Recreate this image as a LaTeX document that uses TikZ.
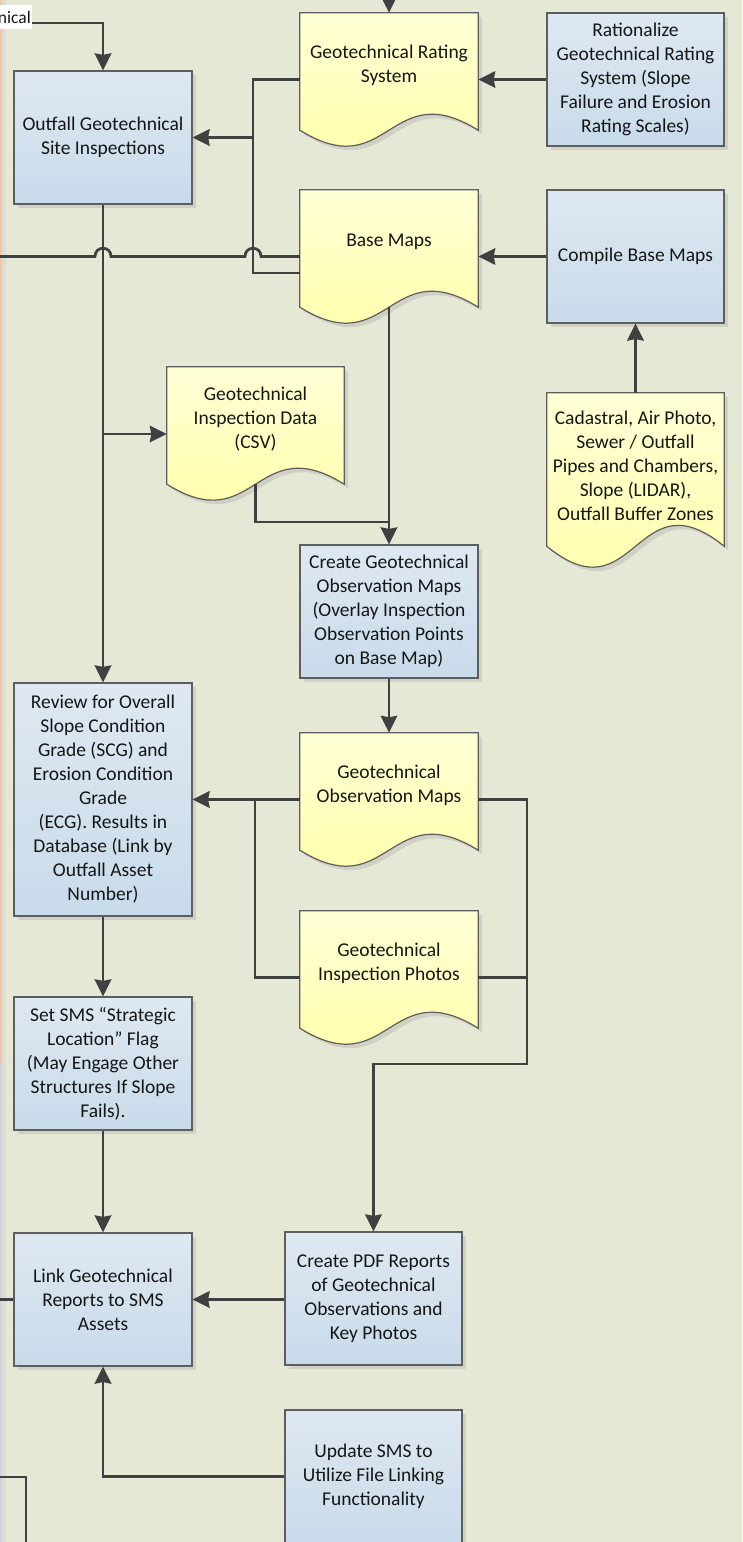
\documentclass[tikz,border=0pt]{standalone}
\usepackage{fontspec}
\setmainfont{Carlito}
\usetikzlibrary{arrows.meta,calc,shadows}

\definecolor{bgc}{HTML}{E5E8D4}
\definecolor{peach}{HTML}{F3C6A6}
\definecolor{lav}{HTML}{D6D0DF}
\definecolor{band}{HTML}{DCDDD3}
\definecolor{boxtop}{HTML}{DFE8F2}
\definecolor{boxbot}{HTML}{C8DBEA}
\definecolor{doctop}{HTML}{FFFFD6}
\definecolor{docbot}{HTML}{FFFFA4}
\definecolor{edgec}{HTML}{5E5E5E}
\definecolor{linec}{HTML}{404040}
\definecolor{shadowc}{HTML}{D0D1C5}
\definecolor{txtc}{HTML}{161616}

\newcommand\mainfs{\fontsize{19.5}{24}\selectfont}

% outline of a "document" symbol (wavy bottom) around the rectangle node #1, shifted by (#2,#3)
\newcommand\docoutline[3]{%
  let \p1=($(#1.north west)+(#2,#3)$), \p2=($(#1.south east)+(#2,#3)$),
      \n1={0.12*(\y1-\y2)}, \n2={0.415*(\y1-\y2)}, \n3={0.5*(\x1+\x2)} in
  (\x1,\y1) -- (\x2,\y1) -- (\x2,{\y2+\n1})
  .. controls ({\n3},{\y2+\n1+\n2}) and ({\n3},{\y2+\n1-\n2}) .. (\x1,{\y2+\n1}) -- cycle}

\tikzset{
  proc/.style={rectangle, draw=edgec, line width=1.2pt, top color=boxtop, bottom color=boxbot,
    minimum width=178pt, minimum height=133pt, inner sep=0pt, align=center, text=txtc, font=\mainfs,
    general shadow={fill=shadowc, shadow xshift=4pt, shadow yshift=-4pt}},
  docbox/.style={rectangle, draw=none, minimum width=178pt, minimum height=133pt, inner sep=0pt},
  doctext/.style={align=center, text=txtc, font=\mainfs, inner sep=0pt},
  conn/.style={draw=linec, line width=2.7pt},
  arrowc/.style={conn, -{Stealth[length=17pt, width=16.5pt, inset=1.5pt]}},
}

\begin{document}
\begin{tikzpicture}[x=1pt, y=1pt]
  % page background and left border strip
  \fill[bgc] (0,0) rectangle (742,-1542);
  \useasboundingbox (0,0) rectangle (742,-1542);
  \fill[peach] (0,0) rectangle (2.3,-1063);
  \fill[lav] (0,-1063) rectangle (2.3,-1542);
  \fill[band] (2.3,0) rectangle (6,-1542);

  % helper coordinates
  \coordinate (lft) at (0,0);
  \coordinate (rtop) at (389,0);
  \coordinate (v1) at (253,-79.5);
  \coordinate (v2) at (253,-273);
  \coordinate (j1) at (103,-434);
  \coordinate (j2) at (389,-522);
  \coordinate (j3) at (255,-799.5);
  \coordinate (j4) at (527,-1064);
  \coordinate (o1) at (0,-1477);
  \coordinate (o2) at (26,-1542);

  % incoming label from the previous sheet
  \node[fill=white, inner xsep=1pt, inner ysep=0pt, minimum height=24pt, anchor=east,
        font=\fontsize{17.5}{20}\selectfont, text=txtc] (prev) at (32,-17) {nical};

  % process boxes
  \node[proc] (outfall) at (103,-137.5) {Outfall Geotechnical\\Site Inspections};
  \node[proc, minimum width=177pt] (ratl) at (635.5,-79.5)
    {Rationalize\\Geotechnical Rating\\System (Slope\\Failure and Erosion\\Rating Scales)};
  \node[proc, minimum width=177pt] (compile) at (635.5,-256.5) {Compile Base Maps};
  \node[proc] (createobs) at (389,-611.5)
    {Create Geotechnical\\Observation Maps\\(Overlay Inspection\\Observation Points\\on Base Map)};
  \node[proc, minimum height=233pt] (review) at (103,-799.5)
    {Review for Overall\\Slope Condition\\Grade (SCG) and\\Erosion Condition\\Grade\\(ECG). Results in\\Database (Link by\\Outfall Asset\\Number)};
  \node[proc] (setsms) at (103,-1063.5)
    {Set SMS “Strategic\\Location” Flag\\(May Engage Other\\Structures If Slope\\Fails).};
  \node[proc] (link) at (103,-1299.5) {Link Geotechnical\\Reports to SMS\\Assets};
  \node[proc, minimum width=177pt] (createpdf) at (373.5,-1298.5)
    {Create PDF Reports\\of Geotechnical\\Observations and\\Key Photos};
  \node[proc, minimum width=177pt] (update) at (373.5,-1476.5)
    {Update SMS to\\Utilize File Linking\\Functionality};

  % document symbols
  \node[docbox] (rating) at (389,-79.5) {};
  \node[docbox] (base) at (389,-256.5) {};
  \node[docbox, minimum width=177pt] (csv) at (255.5,-433.5) {};
  \node[docbox] (obs) at (389,-799.5) {};
  \node[docbox] (photos) at (389,-977.5) {};
  \node[docbox, minimum width=177pt, minimum height=174pt] (cadastral) at (635.5,-480) {};

  \foreach \d in {rating,base,csv,obs,photos,cadastral}{
    \fill[shadowc] \docoutline{\d}{4}{-4};
    \shadedraw[top color=doctop, bottom color=docbot, draw=edgec, line width=1.2pt] \docoutline{\d}{0}{0};
  }

  \node[doctext] (ratingT) at ([yshift=14.5pt]rating.center) {Geotechnical Rating\\System};
  \node[doctext] (baseT) at ([yshift=14.5pt]base.center) {Base Maps};
  \node[doctext] (csvT) at ([yshift=14pt]csv.center) {Geotechnical\\Inspection Data\\(CSV)};
  \node[doctext] (obsT) at ([yshift=14.5pt]obs.center) {Geotechnical\\Observation Maps};
  \node[doctext] (photosT) at ([yshift=14.5pt]photos.center) {Geotechnical\\Inspection Photos};
  \node[doctext] (cadastralT) at ([yshift=14pt]cadastral.center)
    {Cadastral, Air Photo,\\Sewer / Outfall\\Pipes and Chambers,\\Slope (LIDAR),\\Outfall Buffer Zones};

  % connectors
  \draw[arrowc] ([yshift=-6pt]prev.east) -| (outfall.north);
  \draw[arrowc] (rtop) -- (rating.north);
  \draw[arrowc] (ratl.west) -- (ratl.west -| rating.east);
  \draw[conn] (rating.west) -- (v1) -- (v2) -- (v2 -| base.west);
  \draw[arrowc] (v1 |- outfall.east) -- (outfall.east);
  % base map line to the left, hopping over the two vertical lines
  \draw[conn] (base.west) -- ([xshift=8pt]base.west -| v1)
      .. controls +(0,11) and +(0,11) .. ([xshift=-8pt]base.west -| v1)
      -- ([xshift=8pt]base.west -| outfall)
      .. controls +(0,11) and +(0,11) .. ([xshift=-8pt]base.west -| outfall)
      -- (base.west -| lft);
  \draw[arrowc] (compile.west) -- (base.east);
  \draw[arrowc] (cadastral.north) -- (cadastral.north |- compile.south);
  \draw[arrowc] ([yshift=16pt]base.south) -- (createobs.north);
  \draw[arrowc] (outfall.south) -- (review.north);
  \draw[arrowc] (j1) -- (j1 -| csv.west);
  \draw[conn] ([yshift=16pt]csv.south) |- (j2);
  \draw[arrowc] (createobs.south) -- (obs.north);
  \draw[arrowc] (obs.west) -- (obs.west -| review.east);
  \draw[conn] (j3) |- (photos.west);
  \draw[arrowc] (obs.east) -| (j4) -| (createpdf.north);
  \draw[conn] (photos.east) -- (photos.east -| j4);
  \draw[arrowc] (review.south) -- (setsms.north);
  \draw[arrowc] (setsms.south) -- (link.north);
  \draw[arrowc] (link.east -| createpdf.west) -- (link.east);
  \draw[conn] (lft |- link.west) -- (link.west);
  \draw[arrowc] (update.west) -| (link.south);
  \draw[conn] (o1) -| (o2);
\end{tikzpicture}
\end{document}
